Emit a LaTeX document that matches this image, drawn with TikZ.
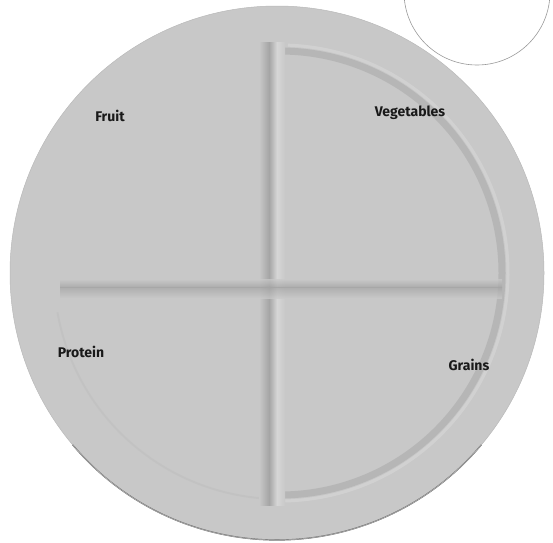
\documentclass[tikz,border=0pt]{standalone}
\usepackage{fontspec}
\setmainfont{Fira Sans}
\begin{document}
\begin{tikzpicture}[x=1pt,y=-1pt,
  lbl/.style={font=\bfseries\fontsize{14}{16}\selectfont, text=black!90, inner sep=0pt}]
\definecolor{plate}{RGB}{200,200,200}
\definecolor{ridgedark}{RGB}{165,165,165}
\definecolor{ridgelight}{RGB}{214,214,214}
\useasboundingbox (0,0) rectangle (553,542);
% partial circle at top right
\draw[gray!80, line width=0.6pt] (477,-8) circle (73);
% outer plate
\fill[plate] (277,273) circle (267);
\draw[gray!80!black, line width=1.2pt] (277,273) ++(40:267) arc (40:140:267);
\draw[gray!55, line width=0.5pt] (277,273) circle (267);
% inner well rim (visible on right side)
\draw[ridgedark, line width=7pt, opacity=0.5] (280,273) ++(-90:222) arc (-90:92:222);
\draw[ridgelight, line width=3pt, opacity=0.7] (280,273) ++(-88:228) arc (-88:90:228);
\draw[ridgedark, line width=2pt, opacity=0.15] (280,273) ++(92:226) arc (92:170:226);
% vertical ridge
\shade[left color=plate, right color=ridgedark] (259,42) rectangle (269,505);
\shade[left color=ridgedark, right color=ridgelight] (269,42) rectangle (277,505);
\shade[left color=ridgelight, right color=plate] (277,42) rectangle (285,505);
% horizontal ridge
\begin{scope}[opacity=0.75]
\shade[top color=plate, bottom color=ridgedark] (60,279) rectangle (502,287);
\shade[top color=ridgedark, bottom color=plate] (60,287) rectangle (502,298);
\end{scope}
% labels
\node[lbl] (fruit) at (110,116) {Fruit};
\node[lbl] (veg) at (410,113) {Vegetables};
\node[lbl] (protein) at (81,352) {Protein};
\node[lbl] (grains) at (469,365) {Grains};
\end{tikzpicture}
\end{document}
